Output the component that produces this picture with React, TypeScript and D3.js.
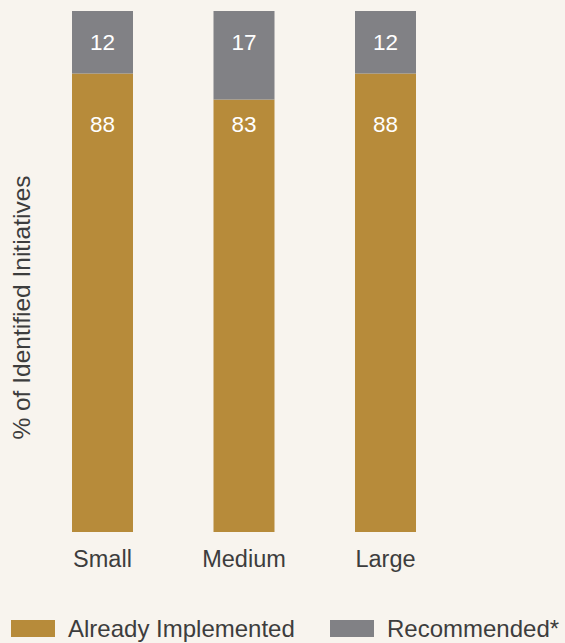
import React from "react";
import * as d3 from "d3";

const categories = ["Small", "Medium", "Large"];
const implemented = [88, 83, 88];
const recommended = [12, 17, 12];
const seriesNames = ["Already Implemented", "Recommended*"];
const colors = ["#b78b3a", "#818185"];

export default function App() {
  const W = 565, H = 643;
  const x = d3.scaleBand().domain(categories).range([1.25, 486.75]).paddingInner(0.569).paddingOuter(0.5);
  const y = d3.scaleLinear().domain([0, 100]).range([532, 11]);
  const font = "'Liberation Sans', Arial, sans-serif";
  const textColor = "#3d3d3d";
  return (
    <svg width={W} height={H} style={{ position: "absolute", left: 0, top: 0, background: "#f8f4ee" }}>
      <rect x={0} y={0} width={W} height={H} fill="#f8f4ee" />
      {categories.map((c, i) => {
        const x0 = x(c)!;
        const bw = x.bandwidth();
        const cx = x0 + bw / 2;
        const top = y(implemented[i] + recommended[i]);
        return (
          <g key={c}>
            <rect x={x0} y={y(implemented[i])} width={bw} height={y(0) - y(implemented[i])} fill={colors[0]} />
            <rect x={x0} y={top} width={bw} height={y(implemented[i]) - top} fill={colors[1]} />
            <text x={cx} y={top + 39} textAnchor="middle" fill="#fff" fontSize={22.5} fontFamily={font}>{recommended[i]}</text>
            <text x={cx} y={top + 121} textAnchor="middle" fill="#fff" fontSize={22.5} fontFamily={font}>{implemented[i]}</text>
            <text x={cx} y={567} textAnchor="middle" fill={textColor} fontSize={23.5} fontFamily={font}>{c}</text>
          </g>
        );
      })}
      <text transform="translate(30,307.5) rotate(-90)" textAnchor="middle" fill={textColor} fontSize={24.5} fontFamily={font}>% of Identified Initiatives</text>
      {seriesNames.map((s, i) => {
        const lx = i === 0 ? 11 : 330;
        return (
          <g key={s}>
            <rect x={lx} y={620} width={44} height={17} fill={colors[i]} />
            <text x={lx + 57} y={637} fill={textColor} fontSize={24} fontFamily={font}>{s}</text>
          </g>
        );
      })}
    </svg>
  );
}
